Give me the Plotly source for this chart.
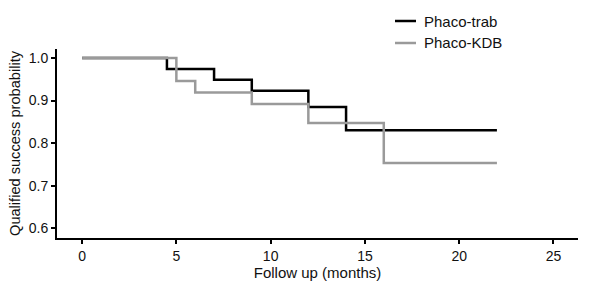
import plotly.graph_objects as go

trab_months = [0, 4.5, 7, 9, 12, 14, 22]
trab_surv = [1.0, 0.974, 0.949, 0.923, 0.885, 0.830, 0.830]
kdb_months = [0, 5, 6, 9, 12, 16, 22]
kdb_surv = [1.0, 0.946, 0.919, 0.892, 0.847, 0.753, 0.753]
x_ticks = [0, 5, 10, 15, 20, 25]
y_ticks = [0.6, 0.7, 0.8, 0.9, 1.0]
series_names = ["Phaco-trab", "Phaco-KDB"]
series_colors = ["#000000", "#9a9a9a"]

W, H = 591, 288
L, R, T, B = 57, 13, 49, 50
fig = go.Figure()
fig.add_trace(go.Scatter(x=trab_months, y=trab_surv, mode="lines", line_shape="hv",
                         name=series_names[0], line=dict(color=series_colors[0], width=2.5)))
fig.add_trace(go.Scatter(x=kdb_months, y=kdb_surv, mode="lines", line_shape="hv",
                         name=series_names[1], line=dict(color=series_colors[1], width=2.5)))

pw, ph = W - L - R, H - T - B
def px(x):
    return (x - L) / pw
def py(y):
    return (H - B - y) / ph

shapes, annotations = [], []
for i, (nm, col) in enumerate(zip(series_names, series_colors)):
    yy = 21 + 22 * i
    shapes.append(dict(type="line", xref="paper", yref="paper",
                       x0=px(395), x1=px(416), y0=py(yy), y1=py(yy),
                       line=dict(color=col, width=2.5)))
    annotations.append(dict(text=nm, xref="paper", yref="paper", x=px(422), y=py(yy),
                            xanchor="left", yanchor="middle", showarrow=False,
                            font=dict(size=15, color="#111")))

fig.update_layout(
    width=W, height=H,
    margin=dict(l=L, r=R, t=T, b=B, autoexpand=False),
    paper_bgcolor="white", plot_bgcolor="white",
    font=dict(family="Liberation Sans, Arial, sans-serif", size=14, color="#111"),
    showlegend=False, hovermode=False,
    shapes=shapes, annotations=annotations,
    xaxis=dict(range=[-1.33, 26.3], tickvals=x_ticks, ticktext=[str(v) for v in x_ticks],
               showgrid=False, zeroline=False, showline=True, linecolor="black", linewidth=2,
               ticks="outside", ticklen=4, tickwidth=1.5, tickcolor="black", automargin=False,
               title=dict(text="Follow up (months)", standoff=5, font=dict(size=15))),
    yaxis=dict(range=[0.577, 1.021], tickvals=y_ticks, ticktext=[f"{v:.1f}" for v in y_ticks],
               showgrid=False, zeroline=False, showline=True, linecolor="black", linewidth=2,
               ticks="outside", ticklen=4, tickwidth=1.5, tickcolor="black", automargin=False,
               title=dict(text="Qualified success probability", standoff=5, font=dict(size=14.6))),
)
fig.write_html("out.html", config={"displayModeBar": False},
               post_script="document.body.style.margin='0';document.body.style.padding='0';")
